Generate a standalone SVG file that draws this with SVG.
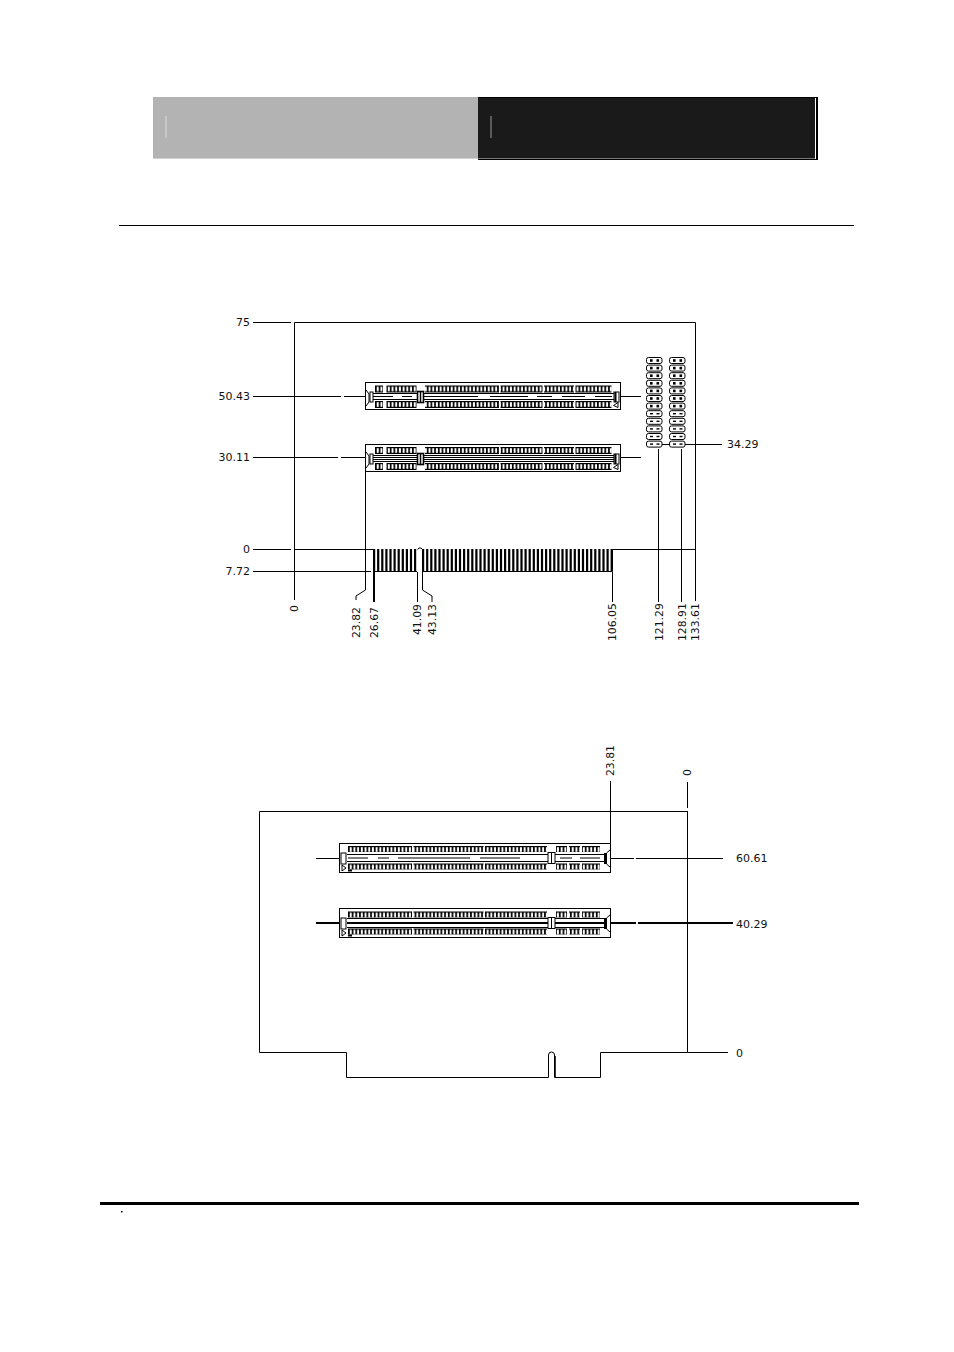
<svg xmlns="http://www.w3.org/2000/svg" width="954" height="1352" viewBox="0 0 954 1352">
<style>
text{font-family:"DejaVu Sans","Liberation Sans",sans-serif;font-size:11px;fill:#111}
.v{font-size:10.800px}
.l{fill:none;stroke:#000;stroke-width:1}
.t{fill:none;stroke:#000;stroke-width:2}
.box{fill:#fff;stroke:#000;stroke-width:1}
.e{text-anchor:end}
</style>
<defs>
<pattern id="pv" width="3.700" height="7" patternUnits="userSpaceOnUse">
<rect width="3.700" height="7" fill="#fff"/>
<rect width="3.700" height="1.200" fill="#000"/>
<rect y="5.800" width="3.700" height="1.200" fill="#000"/>
<rect width="1.700" height="7" fill="#000"/>
</pattern>
<g id="rowA">
<rect x="0" width="8" height="7" fill="url(#pv)"/>
<rect x="11.500" width="30" height="7" fill="url(#pv)"/>
<rect x="50" width="74" height="7" fill="url(#pv)"/>
<rect x="125.500" width="42" height="7" fill="url(#pv)"/>
<rect x="169" width="30" height="7" fill="url(#pv)"/>
<rect x="200.500" width="36" height="7" fill="url(#pv)"/>
</g>
<g id="rowB">
<rect x="0" width="64" height="6" fill="url(#pv)"/>
<rect x="65.500" width="70" height="6" fill="url(#pv)"/>
<rect x="137" width="62" height="6" fill="url(#pv)"/>
<rect x="208" width="11" height="6" fill="url(#pv)"/>
<rect x="221" width="11" height="6" fill="url(#pv)"/>
<rect x="234" width="18" height="6" fill="url(#pv)"/>
</g>
<g id="hA"><rect width="15.500" height="6" rx="2" fill="#fff" stroke="#000"/><rect x="3.500" y="1.700" width="2.600" height="2.600" fill="#000"/><rect x="10" y="1.700" width="2.600" height="2.600" fill="#000"/></g>
<g id="hB"><rect width="15.500" height="6" rx="2" fill="#fff" stroke="#000"/><rect x="3.500" y="2.300" width="3" height="1.400" fill="#000"/><rect x="10" y="2.300" width="3" height="1.400" fill="#000"/></g>
<g id="h"><use href="#hA" y="0"/><use href="#hA" y="7.600"/><use href="#hA" y="15.200"/><use href="#hA" y="22.800"/><use href="#hA" y="30.400"/><use href="#hA" y="38"/><use href="#hA" y="45.600"/><use href="#hB" y="53.200"/><use href="#hB" y="60.800"/><use href="#hB" y="68.400"/><use href="#hB" y="76"/><use href="#hB" y="83.600"/></g>
<g id="endsA">
<path class="l" d="M1 8 L4 12 V20 L1 24"/>
<rect x="5" y="10" width="3" height="10" fill="#fff" stroke="#000"/>
<rect x="52.500" y="9.500" width="6" height="11" fill="#fff" stroke="#000" stroke-width="1.600"/>
<path d="M55.500 9 V21" stroke="#000" stroke-width="1.500"/>
<rect x="249" y="10" width="5" height="10" fill="#fff" stroke="#000"/>
<path d="M250.500 10 V20" stroke="#000" stroke-width="2"/>
<path d="M253 20.500 L248.500 23.500 L253 25.500 Z" fill="#fff" stroke="#000"/>
</g>
<g id="endsB">
<rect x="2" y="10" width="5" height="11" fill="#fff" stroke="#000"/>
<path d="M3 22 L7 25 L3 28 Z" fill="#fff" stroke="#000"/>
<rect x="209" y="9.500" width="7" height="11" fill="#fff" stroke="#000"/>
<path d="M212.500 9 V21" stroke="#000"/>
<path class="l" d="M271 7 L267.500 10 V21 L271 24"/>
<rect x="265" y="10" width="2.500" height="11" fill="#000"/>
</g>
</defs>

<g id="header">
<rect x="153" y="97" width="325" height="61" fill="#b3b3b3"/>
<rect x="153" y="158" width="325" height="1" fill="#d0d0d0"/>
<rect x="478" y="97" width="340" height="63" fill="#000"/>
<rect x="478" y="98" width="337" height="60" fill="#1a1a1a"/>
<rect x="478" y="158" width="337" height="1" fill="#777"/>
<rect x="815" y="98" width="1" height="61" fill="#fff"/>
<rect x="165.500" y="116" width="1" height="22" fill="#ddd"/>
<rect x="490.500" y="116" width="1" height="22" fill="#999"/>
</g>
<path id="rule-top" class="l" d="M119 225.500 H854"/>

<g id="connectors">
<path class="l" d="M253 322.500 H291 M294.500 322.500 V600 M294.500 322.500 H695.500 V601"/>
<path class="l" d="M253 396.500 H341 M344 396.500 H369 M253 457.500 H338 M341 457.500 H369 M253 549.500 H291 M294 549.500 H373 M612 549.500 H695.500 M253 571.500 H371"/>
<path class="l" d="M620 396.500 H641 M620 457.500 H641 M660 444.500 H722"/>
<path class="l" d="M365.500 471 V590 L356 596 V600 M417.500 572 V602 M422.500 572 V590 L432 596 V602 M612.500 572 V602 M658.500 449 V602 M681.500 449 V602"/>
<path class="t" d="M374 572 V602"/>
<path class="l" d="M610.500 781 V843 M687.500 782 V808 M687.500 811 V1052.500 H728"/>
<path class="l" d="M316 858.500 H342 M608 858.500 H634 M636 858.500 H723"/>
<path class="t" d="M316 923 H341 M608 923 H636 M638 923 H733"/>
</g>

<g id="board-top-fingers">
<path d="M373 571.500 H417 M422 571.500 H612.500 V549" class="l"/>
<path d="M373 560 H417 M422 560 H613" stroke="#000" stroke-width="22" stroke-dasharray="2.200 1.900" fill="none"/>
<path class="l" d="M417.500 549.500 L419 548 H421 L422.500 549.500 V571"/>
</g>

<g id="slot-top-1">
<rect class="box" x="365.500" y="382.500" width="255" height="27"/>
<use href="#rowA" x="375" y="385.500"/>
<use href="#rowA" x="375" y="401"/>
<path class="l" d="M370 393.500 H417 M370 399.500 H417 M423 393.500 H614 M423 399.500 H614"/>
<path class="l" d="M373 396.500 H393 M402 396.500 H412 M424 396.500 H478 M490 396.500 H528 M537 396.500 H552 M562 396.500 H585 M595 396.500 H612"/>
<use href="#endsA" x="365" y="382"/>
</g>
<g id="slot-top-2">
<rect class="box" x="365.500" y="444.500" width="255" height="27"/>
<use href="#rowA" x="375" y="447"/>
<use href="#rowA" x="375" y="463"/>
<path class="l" d="M370 455.500 H417 M370 461.500 H417 M423 455.500 H614 M423 461.500 H614"/>
<path class="l" d="M370 457.500 H417 M370 459.500 H417 M423 457.500 H614 M423 459.500 H614"/>
<use href="#endsA" x="365" y="444"/>
</g>
<g id="header-1"><use href="#h" x="646.500" y="357.500"/></g>
<g id="header-2"><use href="#h" x="669.500" y="357.500"/></g>

<g id="board-bottom">
<path class="l" d="M259.500 811.500 H687 M259.500 811.500 V1052.500 H346.500 V1077.500 H548.500 V1055 Q548.500 1052 551.500 1052 Q554.500 1052 554.500 1055 V1077.500 H600.500 V1052.500 H687.500"/>
<path d="M555 1056 V1077" stroke="#000" stroke-width="1.600" fill="none"/>
</g>
<g id="slot-bottom-1">
<rect class="box" x="339.500" y="843.500" width="271" height="29"/>
<use href="#rowB" x="348" y="846"/>
<use href="#rowB" x="348" y="863.500"/>
<path class="l" d="M347 854.500 H548 M347 861.500 H548 M555 854.500 H605 M555 861.500 H605"/>
<path class="l" d="M348 858 H368 M378 858 H389 M398 858 H470 M480 858 H520 M560 858 H572 M580 858 H600"/>
<use href="#endsB" x="339" y="843"/>
<rect x="348" y="869.500" width="4" height="2" fill="#000"/>
</g>
<g id="slot-bottom-2">
<rect class="box" x="339.500" y="908.500" width="271" height="29"/>
<use href="#rowB" x="348" y="911.500"/>
<use href="#rowB" x="348" y="928.500"/>
<path class="l" d="M347 918.500 H548 M347 927.500 H548 M555 918.500 H605 M555 927.500 H605"/>
<path class="t" d="M347 923 H548 M555 923 H605"/>
<use href="#endsB" x="339" y="908"/>
<rect x="348" y="934.500" width="4" height="2" fill="#000"/>
</g>

<g id="labels">
<text class="e" x="250" y="326">75</text>
<text class="e" x="250" y="400">50.43</text>
<text class="e" x="250" y="461">30.11</text>
<text class="e" x="250" y="553">0</text>
<text class="e" x="250" y="575">7.72</text>
<text x="727" y="448">34.29</text>
<text class="v" transform="translate(298,612) rotate(-90)">0</text>
<text class="v" transform="translate(360,638) rotate(-90)">23.82</text>
<text class="v" transform="translate(378,638) rotate(-90)">26.67</text>
<text class="v" transform="translate(421,635) rotate(-90)">41.09</text>
<text class="v" transform="translate(436,635) rotate(-90)">43.13</text>
<text class="v" transform="translate(616,641) rotate(-90)">106.05</text>
<text class="v" transform="translate(663,641) rotate(-90)">121.29</text>
<text class="v" transform="translate(686,641) rotate(-90)">128.91</text>
<text class="v" transform="translate(699,641) rotate(-90)">133.61</text>
<text class="v" transform="translate(614,776) rotate(-90)">23.81</text>
<text class="v" transform="translate(691,776) rotate(-90)">0</text>
<text x="736" y="862">60.61</text>
<text x="736" y="928">40.29</text>
<text x="736" y="1057">0</text>
</g>

<g id="footer">
<path d="M100 1203.500 H859" stroke="#000" stroke-width="3" fill="none"/>
<rect x="121" y="1211" width="1.500" height="1.500" fill="#000"/>
</g>
</svg>
